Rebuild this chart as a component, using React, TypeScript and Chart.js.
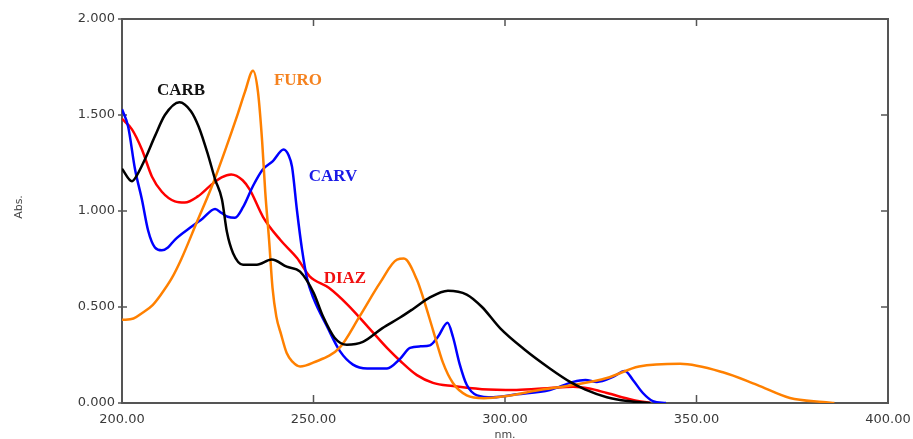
import React, { useEffect, useRef } from "react";
import { Chart, registerables } from "chart.js";

Chart.register(...registerables);

// CARB (black)
const carbX = [200, 202.6, 203.4, 206, 208.6, 211.2, 215, 218, 220, 222.5, 224.3, 226.1, 227.4, 229, 231.6, 235.2, 239.1, 243, 246.5, 250, 252.5, 255.5, 258.7, 262.9, 268, 272.6, 276, 280, 285.1, 290, 294, 298.7, 305, 311.7, 317, 321, 326.6, 332, 338];
const carbY = [1.22, 1.155, 1.17, 1.27, 1.39, 1.5, 1.567, 1.52, 1.44, 1.29, 1.165, 1.06, 0.89, 0.78, 0.72, 0.72, 0.747, 0.71, 0.684, 0.575, 0.45, 0.34, 0.303, 0.318, 0.39, 0.445, 0.49, 0.545, 0.585, 0.565, 0.5, 0.39, 0.28, 0.18, 0.11, 0.07, 0.03, 0.01, 0];

// FURO (orange)
const furoX = [200, 203, 205, 208, 210, 213, 215.5, 219.5, 223.5, 227, 230.3, 232.1, 234.2, 235.5, 236.6, 237.4, 238.4, 239.3, 240.3, 241.5, 243, 244.5, 246.5, 249.9, 256.9, 262, 267.4, 271.8, 273.6, 277, 278.6, 281.2, 283.8, 286.4, 290, 294.5, 300, 309, 317.8, 326.6, 335, 345.7, 356.9, 365.8, 374.4, 383, 386];
const furoY = [0.433, 0.44, 0.465, 0.51, 0.56, 0.65, 0.75, 0.94, 1.13, 1.32, 1.51, 1.62, 1.73, 1.62, 1.36, 1.1, 0.85, 0.6, 0.45, 0.36, 0.26, 0.215, 0.19, 0.21, 0.29, 0.45, 0.627, 0.747, 0.752, 0.642, 0.55, 0.38, 0.21, 0.104, 0.04, 0.025, 0.035, 0.068, 0.094, 0.13, 0.19, 0.204, 0.16, 0.094, 0.026, 0.005, 0];

// CARV (blue)
const carvX = [200, 201.6, 203.4, 205.2, 206.8, 208.6, 210.4, 212, 213.8, 218.3, 221, 224.3, 226, 227.6, 229.5, 231.6, 234.2, 236.8, 239.4, 242.2, 243.5, 244.4, 245.7, 247, 248.3, 250, 253.5, 256.9, 260.3, 264, 269.2, 272.6, 275.2, 278, 280.4, 282.5, 285, 286.4, 288.2, 290, 292.7, 296.9, 303, 311.7, 317.8, 321, 324, 328.2, 331.3, 333.4, 336, 338.6, 342];
const carvY = [1.53, 1.44, 1.217, 1.06, 0.9, 0.81, 0.795, 0.81, 0.85, 0.92, 0.96, 1.01, 0.99, 0.97, 0.965, 1.02, 1.13, 1.217, 1.26, 1.32, 1.29, 1.23, 1.0, 0.8, 0.65, 0.545, 0.4, 0.27, 0.2, 0.18, 0.18, 0.23, 0.287, 0.295, 0.3, 0.345, 0.418, 0.345, 0.2, 0.095, 0.04, 0.03, 0.045, 0.068, 0.11, 0.12, 0.11, 0.136, 0.167, 0.12, 0.052, 0.01, 0];

// DIAZ (red)
const diazX = [200, 202.6, 205.2, 207.8, 210.4, 213.8, 216.4, 219.8, 223.5, 226, 228.5, 231.5, 233.4, 236.8, 241.3, 245.7, 249, 254, 259, 264.5, 269.5, 272.6, 277, 281.2, 286.4, 294, 303, 311.7, 317.8, 322, 326.6, 333.4, 338];
const diazY = [1.48, 1.425, 1.32, 1.18, 1.1, 1.05, 1.044, 1.076, 1.14, 1.175, 1.19, 1.16, 1.11, 0.97, 0.85, 0.755, 0.66, 0.6, 0.51, 0.39, 0.28, 0.22, 0.145, 0.105, 0.088, 0.072, 0.068, 0.078, 0.084, 0.075, 0.052, 0.016, 0];

const seriesNames = ["CARB", "FURO", "CARV", "DIAZ"];
const seriesColors = ["#000000", "#ff8000", "#0000ff", "#ff0000"];
const labelColors = ["#111111", "#f5821f", "#1a1ae6", "#f01010"];
// label anchors in data units (nm, Abs.)
const labelNm = [215.4, 245.95, 255.1, 258.2];
const labelAbs = [1.629, 1.681, 1.18, 0.65];

const xTicks = [200, 250, 300, 350, 400];
const yTicks = [0, 0.5, 1.0, 1.5, 2.0];

const zip = (xs: number[], ys: number[]) => xs.map((x, i) => ({ x, y: ys[i] }));

export default function App() {
  const ref = useRef<HTMLCanvasElement | null>(null);
  useEffect(() => {
    if (!ref.current) return;
    const frame = {
      id: "frame",
      beforeDatasetsDraw(chart: any) {
        const { ctx, chartArea: a, scales } = chart;
        ctx.save();
        ctx.strokeStyle = "#555555";
        ctx.lineWidth = 2;
        ctx.strokeRect(a.left, a.top, a.right - a.left, a.bottom - a.top);
        ctx.lineWidth = 1.5;
        ctx.beginPath();
        yTicks.forEach((v) => {
          const py = scales.y.getPixelForValue(v);
          ctx.moveTo(a.left - 4, py);
          ctx.lineTo(a.left + 5, py);
          ctx.moveTo(a.right, py);
          ctx.lineTo(a.right - 7, py);
        });
        xTicks.forEach((v) => {
          const px = scales.x.getPixelForValue(v);
          ctx.moveTo(px, a.bottom);
          ctx.lineTo(px, a.bottom - 8);
          ctx.moveTo(px, a.top);
          ctx.lineTo(px, a.top + 7);
        });
        ctx.stroke();
        ctx.restore();
      },
      afterDatasetsDraw(chart: any) {
        const { ctx, scales } = chart;
        ctx.save();
        ctx.font = "bold 17px 'Liberation Serif', 'Times New Roman', serif";
        ctx.textAlign = "center";
        ctx.textBaseline = "middle";
        seriesNames.forEach((n, i) => {
          ctx.fillStyle = labelColors[i];
          ctx.fillText(n, scales.x.getPixelForValue(labelNm[i]), scales.y.getPixelForValue(labelAbs[i]));
        });
        ctx.fillStyle = "#444444";
        ctx.font = "11px 'DejaVu Sans', sans-serif";
        ctx.fillText("nm.", scales.x.getPixelForValue(300), 435);
        ctx.translate(19, 207);
        ctx.rotate(-Math.PI / 2);
        ctx.fillText("Abs.", 0, 0);
        ctx.restore();
      },
    };
    const chart = new Chart(ref.current, {
      type: "line",
      data: {
        datasets: [
          { label: seriesNames[0], data: zip(carbX, carbY) },
          { label: seriesNames[1], data: zip(furoX, furoY) },
          { label: seriesNames[2], data: zip(carvX, carvY) },
          { label: seriesNames[3], data: zip(diazX, diazY) },
        ].map((d, i) => ({
          ...d,
          borderColor: seriesColors[i],
          backgroundColor: seriesColors[i],
          borderWidth: 2.5,
          pointRadius: 0,
          cubicInterpolationMode: "monotone" as const,
          fill: false,
        })),
      },
      options: {
        animation: false,
        responsive: false,
        devicePixelRatio: 1,
        layout: { padding: { top: 19, right: 25, left: 0, bottom: 0 } },
        plugins: { legend: { display: false }, tooltip: { enabled: false } },
        scales: {
          x: {
            type: "linear",
            min: 200,
            max: 400,
            afterFit: (s: any) => { s.height = 36; s.paddingLeft = 0; s.paddingRight = 0; },
            afterBuildTicks: (s: any) => { s.ticks = xTicks.map((v) => ({ value: v })); },
            grid: { display: false, drawTicks: false },
            border: { display: false },
            ticks: {
              padding: 9,
              color: "#3a3a3a",
              font: { family: "'DejaVu Sans', sans-serif", size: 13 },
              callback: (v: any) => Number(v).toFixed(2),
              maxRotation: 0,
              autoSkip: false,
            },
          },
          y: {
            type: "linear",
            min: 0,
            max: 2,
            afterFit: (s: any) => { s.width = 122; s.paddingTop = 0; s.paddingBottom = 0; },
            afterBuildTicks: (s: any) => { s.ticks = yTicks.map((v) => ({ value: v })); },
            grid: { display: false, drawTicks: false },
            border: { display: false },
            ticks: {
              padding: 7,
              color: "#3a3a3a",
              font: { family: "'DejaVu Sans', sans-serif", size: 13 },
              callback: (v: any) => Number(v).toFixed(3),
              autoSkip: false,
            },
          },
        },
      },
      plugins: [frame],
    });
    return () => chart.destroy();
  }, []);
  return (
    <div style={{ position: "absolute", left: 0, top: 0, width: 913, height: 439, background: "#fff" }}>
      <canvas ref={ref} width={913} height={439} style={{ display: "block", width: 913, height: 439 }} />
    </div>
  );
}
